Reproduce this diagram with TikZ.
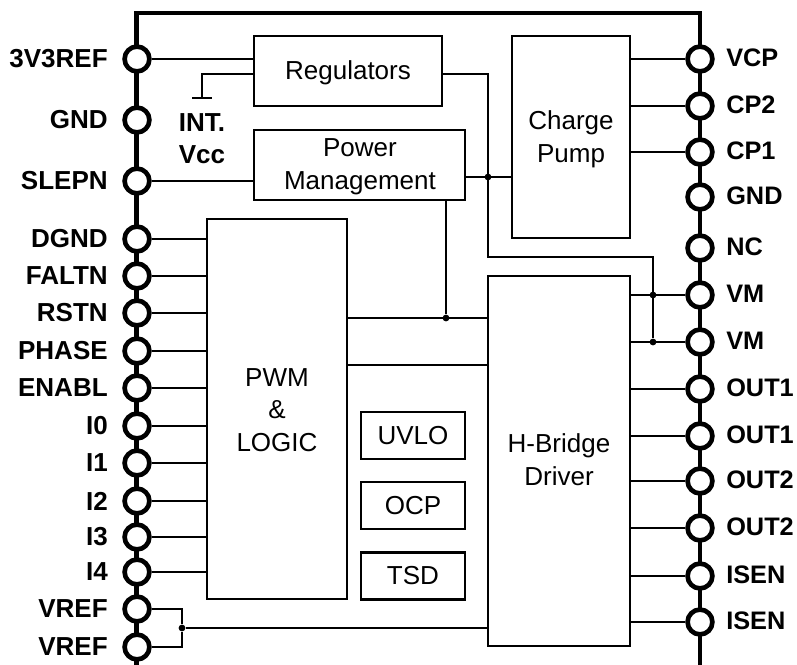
\documentclass[tikz,border=0pt]{standalone}
\usepackage{fontspec}
\setmainfont{Liberation Sans}
\usetikzlibrary{positioning, calc}
\tikzset{
  block/.style={rectangle, draw, line width=1.6pt, inner sep=0pt},
  blocktext/.style={align=center, inner sep=0pt, font=\fontsize{18.5}{23.2}\selectfont},
  pin/.style={circle, draw, line width=3.3pt, fill=white, inner sep=0pt, minimum size=0.62cm},
  pinlabel/.style={inner sep=0pt, font=\fontsize{18.5}{23}\selectfont\bfseries, align=center},
  wire/.style={line width=1.5pt},
  outline/.style={line width=3.3pt},
  dot/.style={circle, fill, inner sep=0pt, minimum size=0.17cm}
}
\begin{document}
\begin{tikzpicture}[x=0.025cm, y=-0.025cm]
  \useasboundingbox (0,0) rectangle (797,665);

  % Package outline
  \coordinate (BL) at (136.5,665);
  \coordinate (TL) at (136.5,13);
  \coordinate (TR) at (700,13);
  \coordinate (BR) at (700,665);
  \draw[outline] (BL) -- (TL) -- (TR) -- (BR);

  % Blocks
  \node[block, minimum width=4.7cm, minimum height=1.75cm] (Reg) at (348,71) {};
  \node[blocktext] (RegText) at (348,73) {Regulators};
  \node[block, minimum width=5.275cm, minimum height=1.75cm] (Pwr) at (359.5,165) {};
  \node[blocktext] (PwrText) at (360,167) {Power\\Management};
  \node[block, minimum width=3.5cm, minimum height=9.5cm] (PWM) at (277,409) {};
  \node[blocktext] (PWMText) at (277,410) {PWM\\\&\\LOGIC};
  \node[block, minimum width=2.95cm, minimum height=5.05cm] (CP) at (571,137) {};
  \node[blocktext] (CPText) at (571,139) {Charge\\Pump};
  \node[block, minimum width=3.55cm, minimum height=9.25cm] (HB) at (559,461) {};
  \node[blocktext] (HBText) at (559,460) {H-Bridge\\Driver};
  \node[block, minimum width=2.6cm, minimum height=1.175cm] (UVLO) at (413,435.5) {};
  \node[blocktext] (UVLOText) at (413,435.5) {UVLO};
  \node[block, minimum width=2.6cm, minimum height=1.175cm] (OCP) at (413,505.5) {};
  \node[blocktext] (OCPText) at (413,505.5) {OCP};
  \node[block, minimum width=2.6cm, minimum height=1.175cm] (TSD) at (413,576) {};
  \node[blocktext] (TSDText) at (413,576) {TSD};

  % Left pins
  \foreach \i/\y/\txt in {1/59/3V3REF, 2/120/GND, 3/181/SLEPN, 4/239/DGND, 5/276/FALTN,
      6/313/RSTN, 7/351/PHASE, 8/388/ENABL, 9/426/I0, 10/463/I1, 11/501/I2, 12/537/I3,
      13/572/I4, 14/609/VREF, 15/647/VREF} {
    \node[pin] (L\i) at (137,\y) {};
    \node[pinlabel, anchor=east] (LL\i) at (108,\y) {\txt};
  }

  % Right pins
  \foreach \i/\y/\txt in {1/59/VCP, 2/106/CP2, 3/152/CP1, 4/197/GND, 5/248/NC, 6/295/VM,
      7/342/VM, 8/389/OUT1, 9/436/OUT1, 10/481/OUT2, 11/528/OUT2, 12/576/ISEN, 13/622/ISEN} {
    \node[pin] (R\i) at (700,\y) {};
    \node[pinlabel, anchor=west, font=\fontsize{18}{23}\selectfont\bfseries] (RL\i) at (726,\y-1) {\txt};
  }

  % Pins to blocks
  \draw[wire] (L1) -- (Reg.west |- L1);
  \draw[wire] (L3) -- (Pwr.west |- L3);
  \foreach \i in {4,...,13}
    \draw[wire] (L\i) -- (PWM.west |- L\i);
  \foreach \i in {1,2,3}
    \draw[wire] (R\i) -- (CP.east |- R\i);
  \foreach \i in {6,...,13}
    \draw[wire] (R\i) -- (HB.east |- R\i);

  % Internal supply
  \coordinate (RegL) at (Reg.west |- 0,74);
  \coordinate (VccTop) at (202,74);
  \coordinate (Vcc) at (202,98);
  \coordinate (VccA) at (192,98);
  \coordinate (VccB) at (212,98);
  \draw[wire] (RegL) -- (VccTop) -- (Vcc);
  \draw[wire] (VccA) -- (VccB);
  \node[pinlabel] (VccText) at (202,138.5) {INT.\\Vcc};

  % Supply rail
  \coordinate (RegR) at (Reg.east |- 0,74);
  \coordinate (RailTop) at (488,74);
  \coordinate (RailBot) at (488,257);
  \coordinate (RailTurn) at (653,257);
  \node[dot] (DotVM1) at (653,295) {};
  \node[dot] (DotVM2) at (653,342) {};
  \node[dot] (DotPwr) at (488,177) {};
  \draw[wire] (RegR) -- (RailTop) -- (RailBot) -- (RailTurn) -- (DotVM2);
  \draw[wire] (Pwr.east |- DotPwr) -- (CP.west |- DotPwr);

  % Logic to driver
  \node[dot] (DotLogic) at (446,318) {};
  \draw[wire] (PWM.east |- DotLogic) -- (HB.west |- DotLogic);
  \draw[wire] (Pwr.south -| DotLogic) -- (DotLogic);
  \coordinate (Link) at (347,365);
  \draw[wire] (PWM.east |- Link) -- (HB.west |- Link);

  % VREF
  \node[dot] (DotRef) at (182,628) {};
  \draw[wire] (L14) -| (DotRef);
  \draw[wire] (L15) -| (DotRef);
  \draw[wire] (DotRef) -- (HB.west |- DotRef);
\end{tikzpicture}
\end{document}
